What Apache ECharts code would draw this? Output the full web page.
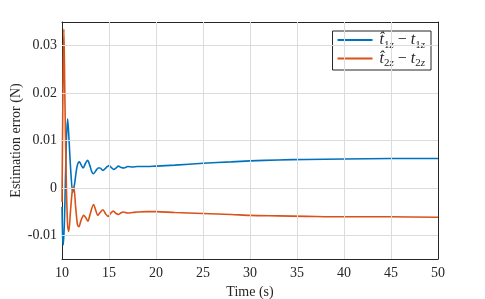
<!DOCTYPE html>
<html>
<head>
<meta charset="utf-8">
<script src="https://cdn.jsdelivr.net/npm/echarts@6/dist/echarts.min.js"></script>
<style>html,body{margin:0;padding:0;background:#fff}#c{width:485px;height:299px}</style>
</head>
<body>
<div id="c"></div>
<script>
// 估计误差:两路 t_z 估计值减真值
const t1Time = [10, 10.08, 10.15, 10.3, 10.45, 10.6, 10.75, 10.95, 11.15, 11.35, 11.6, 11.85, 12.05, 12.25, 12.5, 12.72, 12.95, 13.15, 13.35, 13.6, 13.85, 14.05, 14.35, 14.7, 15.0, 15.25, 15.5, 15.75, 16.0, 16.3, 16.6, 17, 17.5, 18, 19, 20, 22, 25, 28, 30, 33, 36, 40, 45, 50]
const t1Err = [-0.004, -0.011, -0.012, -0.004, 0.009, 0.0146, 0.010, 0.003, -0.001, 0.001, 0.0045, 0.0055, 0.0048, 0.0042, 0.0052, 0.0058, 0.0048, 0.0035, 0.003, 0.0036, 0.0042, 0.0042, 0.0037, 0.0043, 0.0047, 0.0043, 0.0039, 0.0042, 0.0046, 0.0043, 0.0042, 0.0045, 0.0044, 0.0045, 0.0045, 0.0046, 0.0048, 0.0052, 0.0055, 0.0057, 0.0059, 0.006, 0.0061, 0.0062, 0.0062]
const t2Time = [10, 10.1, 10.2, 10.3, 10.45, 10.6, 10.72, 10.9, 11.1, 11.25, 11.45, 11.65, 11.8, 12.0, 12.3, 12.5, 12.75, 13.0, 13.35, 13.6, 13.8, 14.05, 14.35, 14.65, 14.9, 15.2, 15.45, 15.75, 16.0, 16.25, 16.5, 17, 17.5, 18, 19, 20, 22, 25, 28, 30, 33, 36, 40, 45, 50]
const t2Err = [-0.003, 0.02, 0.0335, 0.02, 0.002, -0.008, -0.0092, -0.005, -0.0005, 0.0002, -0.004, -0.0078, -0.0082, -0.007, -0.0058, -0.0062, -0.007, -0.0055, -0.0035, -0.0048, -0.0058, -0.0052, -0.0046, -0.0055, -0.006, -0.0053, -0.0049, -0.0054, -0.0056, -0.0053, -0.0051, -0.0053, -0.0052, -0.0051, -0.005, -0.005, -0.0052, -0.0054, -0.0056, -0.0058, -0.0059, -0.006, -0.0061, -0.0061, -0.0062]
const xTicks = [10, 15, 20, 25, 30, 35, 40, 45, 50]
const yTicks = [-0.01, 0, 0.01, 0.02, 0.03]

const C = { blue: '#0072BD', orange: '#D95319', ink: '#262626', grid: '#dcdcdc' }
const FONT = '"Liberation Serif", "DejaVu Serif", serif'

const zip = (xs, ys) => xs.map((x, i) => [x, ys[i]])

const axisLine = { show: true, onZero: false, lineStyle: { color: C.ink, width: 1 } }
const tickIn = { show: true, inside: true, length: 4, lineStyle: { color: C.ink } }

const xBase = { type: 'value', min: 10, max: 50, interval: 5, axisLine, splitLine: { show: false } }
const yBase = { type: 'value', min: -0.015, max: 0.035, interval: 0.005, axisLine, splitLine: { show: false } }

// 网格线只画在刻度处(y 轴范围不是 0.01 的整数倍,用 markLine 代替 splitLine)
const gridLines = [
  ...xTicks.slice(1, -1).map(x => ({ xAxis: x })),
  ...yTicks.map(y => ({ yAxis: y })),
]

// 图例文字:t̂_{1z} − t_{1z},下标 1 直立、z 斜体
const legendText = k => `{v|t̂}{s|${k}}{si|z}{o| − }{v|t}{s|${k}}{si|z}`

const chart = echarts.init(document.getElementById('c'), null, { renderer: 'canvas' })
chart.setOption({
  animation: false,
  textStyle: { fontFamily: FONT },
  grid: { left: 62, right: 47, top: 22, bottom: 40, outerBoundsMode: 'none' },
  xAxis: [
    { ...xBase, position: 'bottom',
      axisTick: { ...tickIn, customValues: xTicks },
      axisLabel: { color: C.ink, fontSize: 14, fontFamily: FONT, margin: 7, customValues: xTicks },
      name: 'Time (s)', nameLocation: 'middle', nameGap: 26, nameMoveOverlap: false,
      nameTextStyle: { color: C.ink, fontSize: 14, fontFamily: FONT } },
    { ...xBase, position: 'top', axisTick: { ...tickIn, customValues: xTicks },
      axisLabel: { show: false } },
  ],
  yAxis: [
    { ...yBase, position: 'left',
      axisTick: { ...tickIn, customValues: yTicks },
      axisLabel: { color: C.ink, fontSize: 14, fontFamily: FONT, margin: 5, customValues: yTicks,
        formatter: v => (Math.abs(v) < 1e-9 ? '0' : String(+v.toFixed(3))) },
      name: 'Estimation error (N)', nameLocation: 'middle', nameGap: 39, nameMoveOverlap: false,
      nameTextStyle: { color: C.ink, fontSize: 14, fontFamily: FONT } },
    { ...yBase, position: 'right', axisTick: { ...tickIn, customValues: yTicks },
      axisLabel: { show: false } },
  ],
  legend: {
    data: ['e1', 'e2'],
    orient: 'vertical', right: 54, top: 31,
    backgroundColor: '#fff', borderColor: C.ink, borderWidth: 1,
    padding: [1, 6, 1, 5], itemGap: 0, itemWidth: 35, itemHeight: 2, icon: 'rect',
    formatter: name => legendText(name === 'e1' ? '1' : '2'),
    textStyle: {
      color: C.ink, fontFamily: FONT, padding: [0, 0, 0, 2],
      rich: {
        v: { fontSize: 16, fontStyle: 'italic', fontFamily: FONT, color: C.ink, lineHeight: 21 },
        s: { fontSize: 11, fontFamily: FONT, color: C.ink, lineHeight: 13, verticalAlign: 'bottom' },
        si: { fontSize: 11, fontStyle: 'italic', fontFamily: FONT, color: C.ink, lineHeight: 13, verticalAlign: 'bottom' },
        o: { fontSize: 16, fontFamily: FONT, color: C.ink, lineHeight: 21 },
      },
    },
  },
  series: [
    { name: 'grid', type: 'line', data: [], z: 1, silent: true,
      markLine: { silent: true, symbol: 'none', label: { show: false },
        lineStyle: { color: C.grid, type: 'solid', width: 1 }, data: gridLines } },
    { name: 'e1', type: 'line', data: zip(t1Time, t1Err), smooth: 0.3, symbol: 'none', z: 3,
      lineStyle: { color: C.blue, width: 1.6 }, itemStyle: { color: C.blue } },
    { name: 'e2', type: 'line', data: zip(t2Time, t2Err), smooth: 0.3, symbol: 'none', z: 3,
      lineStyle: { color: C.orange, width: 1.6 }, itemStyle: { color: C.orange } },
  ],
})
</script>
</body>
</html>
